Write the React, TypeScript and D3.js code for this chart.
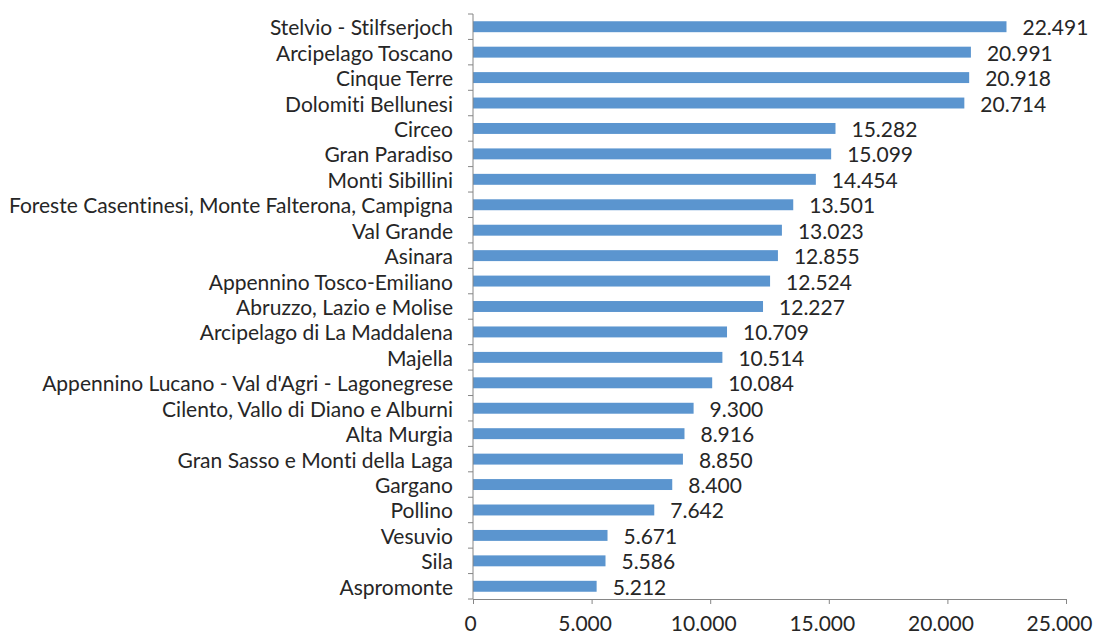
import React, { useEffect, useRef } from "react";
import * as d3 from "d3";

// Parchi nazionali, sorted top to bottom
const parks = [
  "Stelvio - Stilfserjoch",
  "Arcipelago Toscano",
  "Cinque Terre",
  "Dolomiti Bellunesi",
  "Circeo",
  "Gran Paradiso",
  "Monti Sibillini",
  "Foreste Casentinesi, Monte Falterona, Campigna",
  "Val Grande",
  "Asinara",
  "Appennino Tosco-Emiliano",
  "Abruzzo, Lazio e Molise",
  "Arcipelago di La Maddalena",
  "Majella",
  "Appennino Lucano - Val d'Agri - Lagonegrese",
  "Cilento, Vallo di Diano e Alburni",
  "Alta Murgia",
  "Gran Sasso e Monti della Laga",
  "Gargano",
  "Pollino",
  "Vesuvio",
  "Sila",
  "Aspromonte",
];

const values = [
  22491, 20991, 20918, 20714, 15282, 15099, 14454, 13501, 13023, 12855, 12524,
  12227, 10709, 10514, 10084, 9300, 8916, 8850, 8400, 7642, 5671, 5586, 5212,
];

const xTicks = [0, 5000, 10000, 15000, 20000, 25000];

const App = () => {
  const svgRef = useRef<SVGSVGElement>(null);

  useEffect(() => {
    const width = 1095;
    const height = 635;
    const margin = { top: 14, right: 29, bottom: 36, left: 473 };

    const svg = d3.select(svgRef.current);
    svg.selectAll("*").remove();
    svg.attr("width", width).attr("height", height);

    const it = d3.formatLocale({
      decimal: ",",
      thousands: ".",
      grouping: [3],
      currency: ["€", ""],
    });
    const fmt = it.format(",d");

    const x = d3
      .scaleLinear()
      .domain([0, 25000])
      .range([margin.left, width - margin.right]);

    const y = d3
      .scaleBand()
      .domain(parks)
      .range([margin.top, height - margin.bottom])
      .paddingInner(0.57)
      .paddingOuter(0.285);

    const font = "Lato, 'Open Sans', sans-serif";
    const fontSize = 21;
    const textColor = "#262626";
    const axisColor = "#868686";

    svg.style("font-variant-ligatures", "none");

    // bars
    svg
      .append("g")
      .selectAll("rect")
      .data(values)
      .enter()
      .append("rect")
      .attr("x", x(0))
      .attr("y", (d, i) => y(parks[i])!)
      .attr("width", (d) => x(d) - x(0))
      .attr("height", y.bandwidth())
      .attr("fill", "#5b95cf");

    // value labels
    svg
      .append("g")
      .selectAll("text")
      .data(values)
      .enter()
      .append("text")
      .attr("x", (d) => x(d) + 16)
      .attr("y", (d, i) => y(parks[i])! + y.bandwidth() / 2)
      .attr("dominant-baseline", "central")
      .attr("font-family", font)
      .attr("font-size", fontSize)
      .attr("fill", textColor)
      .text((d) => fmt(d));

    // y axis: line with ticks between categories
    const step = y.step();
    const yAxis = svg.append("g");
    yAxis
      .append("line")
      .attr("x1", x(0))
      .attr("x2", x(0))
      .attr("y1", margin.top)
      .attr("y2", height - margin.bottom)
      .attr("stroke", axisColor);
    yAxis
      .selectAll("line.tick")
      .data(d3.range(parks.length + 1))
      .enter()
      .append("line")
      .attr("class", "tick")
      .attr("x1", x(0) - 5)
      .attr("x2", x(0))
      .attr("y1", (i) => margin.top + i * step)
      .attr("y2", (i) => margin.top + i * step)
      .attr("stroke", axisColor);
    yAxis
      .selectAll("text")
      .data(parks)
      .enter()
      .append("text")
      .attr("x", x(0) - 20)
      .attr("y", (d) => y(d)! + y.bandwidth() / 2)
      .attr("text-anchor", "end")
      .attr("dominant-baseline", "central")
      .attr("font-family", font)
      .attr("font-size", fontSize)
      .attr("fill", textColor)
      .text((d) => d);

    // x axis
    const xAxis = svg
      .append("g")
      .attr("transform", `translate(0,${height - margin.bottom})`)
      .call(
        d3
          .axisBottom(x)
          .tickValues(xTicks)
          .tickSize(5)
          .tickSizeOuter(0)
          .tickPadding(12)
          .tickFormat((d) => fmt(d as number)),
      );
    xAxis.select(".domain").attr("stroke", axisColor);
    xAxis.selectAll(".tick line").attr("stroke", axisColor);
    // labels sit a little left of their ticks, as in the original
    xAxis
      .selectAll<SVGTextElement, number>(".tick text")
      .attr("dx", (d) => (d === 0 ? -3 : -7))
      .attr("font-family", font)
      .attr("font-size", fontSize)
      .attr("fill", textColor);
  }, []);

  return (
    <svg
      ref={svgRef}
      style={{ position: "absolute", left: 0, top: 0, background: "#fff" }}
    />
  );
};

export default App;
